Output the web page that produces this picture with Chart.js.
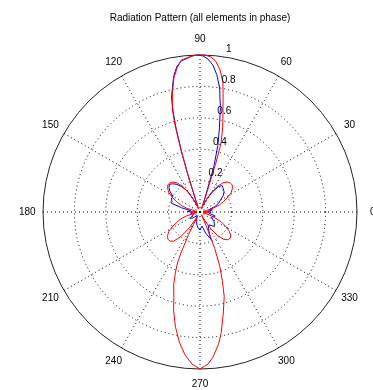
<!DOCTYPE html>
<html><head><meta charset="utf-8">
<script src="https://cdn.jsdelivr.net/npm/chart.js@4/dist/chart.umd.min.js"></script>
<style>html,body{margin:0;padding:0;background:#fff}canvas{display:block}</style>
</head><body>
<canvas id="c" width="373" height="390"></canvas>
<script>
const titleText = 'Radiation Pattern (all elements in phase)';
const spokeAngles = [0,30,60,90,120,150,180,210,240,270,300,330];
const radiusTicks = [0.2,0.4,0.6,0.8,1];
const tickLabelAngle = 82;

const redAngles = [0,4,8,12,16,20,24,28,32,36,40,44,48,52,56,60,64,68,70,72,73,75,77,79,80,82,84,86,88,90,92,94,97,99,101,103,105,106,107,108,109,112,116,120,124,128,132,136,140,144,148,152,156,160,164,168,172,176,180,184,188,192,196,200,204,208,212,216,220,224,228,232,236,239,241,243,245,246,248,250,253,255,258,261,264,267,270,273,275,278,280,283,286,288,290,292,294,296,299,303,307,311,315,319,323,327,331,335,339,343,347,352,356];
const redR = [0.06,0.04,0.02,0.03,0.09,0.13,0.165,0.2,0.235,0.255,0.268,0.267,0.257,0.235,0.195,0.14,0.07,0.02,0.1,0.32,0.46,0.56,0.65,0.77,0.84,0.915,0.965,0.99,1.0,1.0,0.998,0.99,0.975,0.93,0.87,0.78,0.68,0.58,0.42,0.25,0.1,0.02,0.07,0.14,0.195,0.235,0.257,0.267,0.268,0.255,0.235,0.2,0.165,0.13,0.09,0.03,0.02,0.04,0.06,0.04,0.02,0.03,0.09,0.13,0.165,0.2,0.235,0.255,0.268,0.267,0.25,0.2,0.12,0.04,0.03,0.16,0.28,0.35,0.42,0.49,0.57,0.65,0.75,0.84,0.915,0.97,1.0,0.97,0.93,0.85,0.78,0.66,0.56,0.46,0.37,0.25,0.1,0.02,0.06,0.13,0.19,0.23,0.25,0.255,0.245,0.22,0.185,0.15,0.1,0.06,0.02,0.03,0.05];

const blueAngles = [0,5,10,15,20,25,30,35,40,45,50,54,58,62,66,70,73,75,77,79,81,83,85,87,89,91,93,95,97,99,101,103,104,105,106,107,108,110,113,118,122,126,130,134,138,142,146,150,155,160,163,167,172,177,182,190,200,212,220,230,245,255,262,270,278,285,292,296,305,315,325,335,345,352];
const blueR = [0.07,0.05,0.08,0.06,0.1,0.13,0.15,0.18,0.2,0.21,0.22,0.2,0.15,0.1,0.05,0.08,0.3,0.44,0.55,0.68,0.8,0.88,0.94,0.975,0.995,1.0,0.995,0.98,0.97,0.94,0.88,0.79,0.75,0.66,0.55,0.4,0.25,0.08,0.04,0.1,0.16,0.2,0.23,0.25,0.263,0.25,0.23,0.2,0.2,0.19,0.19,0.12,0.06,0.08,0.05,0.06,0.04,0.075,0.06,0.03,0.05,0.08,0.1,0.115,0.09,0.14,0.19,0.12,0.1,0.13,0.11,0.08,0.1,0.06];

// radial category axis: one slot per degree, slot i <-> angle (360 - i) % 360
const N = 360;
const slotLabels = Array.from({length: N}, (_, i) => (360 - i) % 360);
function toSlots(angles, values) {
  const arr = new Array(N).fill(null);
  angles.forEach((a, k) => { arr[(360 - a) % 360] = values[k]; });
  return arr;
}

const polarText = {
  id: 'polarText',
  afterDraw(chart) {
    const s = chart.scales.r;
    const ctx = chart.ctx;
    ctx.save();
    ctx.fillStyle = '#000';
    ctx.font = '10px "Liberation Sans", Arial, sans-serif';
    ctx.textAlign = 'center';
    ctx.textBaseline = 'middle';
    spokeAngles.forEach(a => {
      const p = s.getPointPosition((360 - a) % 360, s.drawingArea * 1.1);
      ctx.fillText(String(a), p.x, p.y);
    });
    ctx.textAlign = 'left';
    ctx.textBaseline = 'alphabetic';
    radiusTicks.forEach(v => {
      const p = s.getPointPositionForValue((360 - tickLabelAngle) % 360, v + 0.01);
      ctx.fillText(String(v), p.x + 4, p.y - 3);
    });
    ctx.textAlign = 'center';
    ctx.textBaseline = 'middle';
    ctx.fillText(titleText, s.xCenter, 18);
    ctx.restore();
  }
};

new Chart(document.getElementById('c'), {
  type: 'radar',
  data: {
    labels: slotLabels,
    datasets: [
      { label: 'theory', data: toSlots(redAngles, redR), borderColor: '#ff0000', borderWidth: 1, fill: false, pointRadius: 0, spanGaps: true, tension: 0 },
      { label: 'measured', data: toSlots(blueAngles, blueR), borderColor: '#0000ff', borderWidth: 1, fill: false, pointRadius: 0, spanGaps: true, tension: 0 }
    ]
  },
  options: {
    responsive: false,
    animation: false,
    layout: { padding: { left: 43, right: 16, top: 55, bottom: 21 } },
    plugins: { legend: { display: false }, tooltip: { enabled: false }, title: { display: false } },
    elements: { point: { radius: 0, hitRadius: 0 } },
    scales: {
      r: {
        min: 0, max: 1, startAngle: 90,
        ticks: { display: false, stepSize: 0.2 },
        pointLabels: { display: false },
        grid: { circular: true, lineWidth: 1, color: c => (c.tick && c.tick.value > 0.999) ? '#222' : '#000' },
        border: { dash: c => (c.tick && c.tick.value > 0.999) ? [] : [1, 3] },
        angleLines: { display: true, color: '#000', borderDash: [1, 3], lineWidth: c => (c.index % 30 === 0) ? 1 : 0 }
      }
    }
  },
  plugins: [polarText]
});
</script>
</body></html>
